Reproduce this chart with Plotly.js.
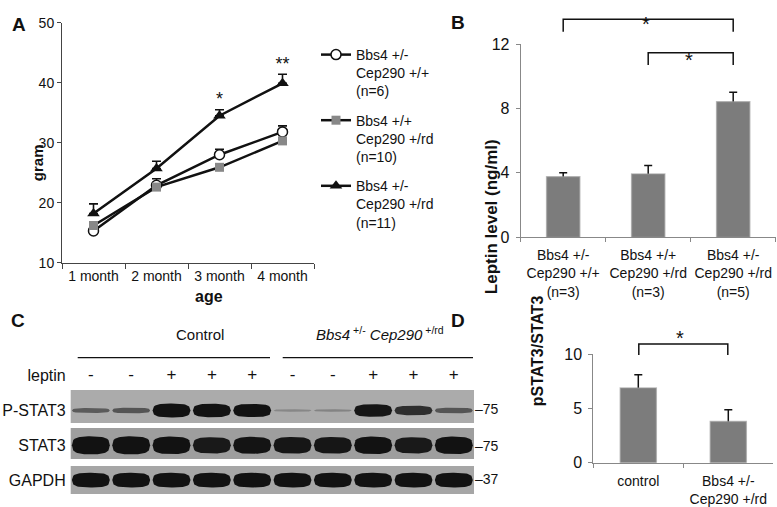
<!DOCTYPE html>
<html><head><meta charset="utf-8">
<script src="https://cdn.plot.ly/plotly-3.0.1.min.js"></script>
<style>body{margin:0;background:#fff}#chart{width:777px;height:507px}</style>
</head><body><div id="chart"></div>
<script>
// ---------- Panel A: body weight ----------
const ageMonths = ['1 month', '2 month', '3 month', '4 month'];
const seriesNames = ['Bbs4 +/-<br>Cep290 +/+<br>(n=6)', 'Bbs4 +/+<br>Cep290 +/rd<br>(n=10)', 'Bbs4 +/-<br>Cep290 +/rd<br>(n=11)'];
const weightBbs4Het = [15.3, 22.9, 28.0, 31.8];
const errBbs4Het = [0.4, 1.1, 0.9, 1.0];
const weightCep290Rd = [16.2, 22.6, 25.9, 30.3];
const errCep290Rd = [0.6, 0.5, 0.4, 0.5];
const weightDouble = [18.2, 25.7, 34.5, 39.9];
const errDouble = [1.6, 1.2, 1.0, 1.5];
const weightStars = ['', '', '*', '**'];

// ---------- Panel B: leptin ----------
const leptinGroups = ['Bbs4 +/-<br>Cep290 +/+<br>(n=3)', 'Bbs4 +/+<br>Cep290 +/rd<br>(n=3)', 'Bbs4 +/-<br>Cep290 +/rd<br>(n=5)'];
const leptinLevel = [3.76, 3.93, 8.42];
const leptinErr = [0.24, 0.52, 0.58];

// ---------- Panel C: western blot ----------
const lanes = [1, 2, 3, 4, 5, 6, 7, 8, 9, 10];
const laneLeptin = ['-', '-', '+', '+', '+', '-', '-', '+', '+', '+'];
const blotRows = ['leptin', 'P-STAT3', 'STAT3', 'GAPDH'];
const pstat3Band = [0.25, 0.3, 1.0, 0.95, 0.93, 0.04, 0.05, 0.88, 0.62, 0.3];
const stat3Band = [1.0, 1.0, 0.95, 0.85, 0.9, 0.88, 0.88, 0.95, 0.85, 0.95];
const gapdhBand = [0.95, 0.95, 0.95, 0.95, 0.95, 0.95, 0.95, 0.95, 0.95, 0.95];
const markerKDa = ['75', '75', '37'];
const groupHeaders = ['Control', '<i>Bbs4</i><sup> +/-</sup> <i>Cep290</i><sup> +/rd</sup>'];

// ---------- Panel D: pSTAT3/STAT3 ----------
const pstatGroups = ['control', 'Bbs4 +/-<br>Cep290 +/rd'];
const pstatRatio = [6.89, 3.80];
const pstatErr = [1.23, 1.08];

const W = 777, H = 507;
const X = p => p / W;
const Y = p => 1 - p / H;
const FONT = 'Liberation Sans, Arial, Helvetica, sans-serif';
const INK = '#111';
const BAR = '#7c7c7c';

// pixel boxes of the panels
const boxA = {x: [62, 314], y: [22.7, 262.7]};
const boxB = {x: [520.7, 775.7], y: [44, 237.3]};
const boxC = {x: [70.7, 474], y: [358.3, 497.5]};
const boxD = {x: [593.3, 773.3], y: [354.3, 462.7]};
const rowPx = (boxC.y[1] - boxC.y[0]) / blotRows.length;

function xDom(b) { return [X(b.x[0]), X(b.x[1])]; }
function yDom(b) { return [Y(b.y[1]), Y(b.y[0])]; }

const zeros = a => a.map(() => 0);
const traces = [];

// Panel A
const aSeries = [
  {y: weightBbs4Het, e: errBbs4Het, marker: {symbol: 'circle', size: 10, color: '#fff', line: {color: INK, width: 1.5}}},
  {y: weightCep290Rd, e: errCep290Rd, marker: {symbol: 'square', size: 9, color: '#888', line: {width: 0}}},
  {y: weightDouble, e: errDouble, marker: {symbol: 'triangle-up', size: 11, color: INK, line: {width: 0}}}
];
aSeries.forEach((s, i) => {
  traces.push({
    type: 'scatter', mode: 'lines+markers', name: seriesNames[i], legendgroup: 'g' + i,
    x: ageMonths, y: s.y, xaxis: 'x', yaxis: 'y',
    line: {color: INK, width: 2.5}, marker: s.marker,
    error_y: {type: 'data', symmetric: false, array: s.e, arrayminus: zeros(s.e), color: INK, thickness: 1.6, width: 4.5},
    cliponaxis: false
  });
});
traces.push({
  type: 'scatter', mode: 'text', x: ageMonths, y: weightDouble.map((v, i) => v + errDouble[i]),
  text: weightStars, textposition: 'top center', textfont: {size: 18, color: INK, family: FONT},
  xaxis: 'x', yaxis: 'y', showlegend: false, cliponaxis: false
});

// Panel B (first trace carries the error bars beneath the visible bars)
traces.push({type: 'bar', x: leptinGroups, y: leptinLevel, xaxis: 'x2', yaxis: 'y2', width: 0.39,
  marker: {color: 'rgba(0,0,0,0)'}, showlegend: false,
  error_y: {type: 'data', array: leptinErr, symmetric: true, color: INK, thickness: 1.5, width: 4}});
traces.push({type: 'bar', x: leptinGroups, y: leptinLevel, xaxis: 'x2', yaxis: 'y2', width: 0.39,
  marker: {color: BAR, line: {color: 'rgba(150,150,150,0.6)', width: 1.5}}, showlegend: false});

// Panel D
traces.push({type: 'bar', x: pstatGroups, y: pstatRatio, xaxis: 'x3', yaxis: 'y3', width: 0.40,
  marker: {color: 'rgba(0,0,0,0)'}, showlegend: false,
  error_y: {type: 'data', array: pstatErr, symmetric: true, color: INK, thickness: 1.5, width: 4}});
traces.push({type: 'bar', x: pstatGroups, y: pstatRatio, xaxis: 'x3', yaxis: 'y3', width: 0.40,
  marker: {color: BAR, line: {color: 'rgba(150,150,150,0.6)', width: 1.5}}, showlegend: false});

// Panel C: leptin treatment signs
traces.push({type: 'scatter', mode: 'text', x: lanes, y: lanes.map(() => 0), text: laneLeptin,
  textfont: {size: 17, color: INK, family: FONT}, xaxis: 'x4', yaxis: 'y4', showlegend: false, cliponaxis: false});

// Panel C: bands as rounded blobs
const bandSets = [
  {row: 1, v: pstat3Band, base: 1.0, amp: 6.0},
  {row: 2, v: stat3Band, base: 3.5, amp: 5.5},
  {row: 3, v: gapdhBand, base: 3.0, amp: 4.6}
];
function shade(v) {
  const g = Math.round(160 - 142 * Math.pow(Math.min(1, v * 1.08), 0.55));
  return 'rgb(' + g + ',' + g + ',' + g + ')';
}
function blob(cx, cy, halfW, halfHpx) {
  const N = 28, p = 3, xs = [], ys = [];
  const hh = halfHpx / rowPx;
  for (let k = 0; k <= N; k++) {
    const t = -1 + 2 * k / N;
    xs.push(cx + t * halfW);
    ys.push(cy - hh * Math.pow(1 - Math.pow(Math.abs(t), p), 1 / p));
  }
  for (let k = N; k >= 0; k--) {
    const t = -1 + 2 * k / N;
    xs.push(cx + t * halfW);
    ys.push(cy + hh * Math.pow(1 - Math.pow(Math.abs(t), p), 1 / p));
  }
  return {xs, ys};
}
bandSets.forEach(set => {
  set.v.forEach((v, i) => {
    const b = blob(lanes[i], set.row, 0.47, set.base + set.amp * v);
    traces.push({type: 'scatter', mode: 'lines', x: b.xs, y: b.ys, fill: 'toself',
      fillcolor: shade(v), line: {width: 0, color: shade(v)},
      xaxis: 'x4', yaxis: 'y4', showlegend: false});
  });
});

function axStyle(extra) {
  return Object.assign({
    showline: true, linecolor: '#666', linewidth: 1, ticks: 'outside', ticklen: 4, tickcolor: '#666',
    showgrid: false, zeroline: false, fixedrange: true, tickangle: 0,
    tickfont: {family: FONT, size: 14, color: INK}
  }, extra);
}

const annotations = [];
function ann(text, x, y, opts) {
  annotations.push(Object.assign({text: text, x: X(x), y: Y(y), xref: 'paper', yref: 'paper', showarrow: false,
    font: {family: FONT, size: 14, color: INK}}, opts || {}));
}
// panel letters
ann('<b>A</b>', 9.5, 12, {font: {family: FONT, size: 19, color: INK}});
ann('<b>B</b>', 457.5, 10.5, {font: {family: FONT, size: 19, color: INK}});
ann('<b>C</b>', 9, 320, {font: {family: FONT, size: 19, color: INK}});
ann('<b>D</b>', 458, 320, {font: {family: FONT, size: 19, color: INK}});
// axis titles
ann('<b>gram</b>', 26.5, 142.7, {textangle: -90, font: {family: FONT, size: 15, color: INK}});
ann('<b>age</b>', 192.7, 296.5, {font: {family: FONT, size: 16, color: INK}});
ann('<b>Leptin level (ng/ml)</b>', 491.7, 137, {textangle: -90, font: {family: FONT, size: 17, color: INK}});
ann('<b>pSTAT3/STAT3</b>', 548.3, 408, {textangle: -90, font: {family: FONT, size: 16, color: INK}});
// blot headers
ann(groupHeaders[0], 174, 345, {font: {family: FONT, size: 15, color: INK}});
ann(groupHeaders[1], 380, 345, {font: {family: FONT, size: 15, color: INK}});
// molecular weight markers
const mwY = [419, 456, 489];
markerKDa.forEach((m, i) => ann('\u2013' + m, 473, mwY[i], {xanchor: 'left', font: {family: FONT, size: 14, color: INK}}));
// significance stars for B and D
ann('*', 651.7, 11, {font: {family: FONT, size: 20, color: INK}});
ann('*', 695, 47, {font: {family: FONT, size: 20, color: INK}});
ann('*', 686, 337.5, {font: {family: FONT, size: 20, color: INK}});

function catPx(box, n, i) { return box.x[0] + (box.x[1] - box.x[0]) * (i + 0.5) / n; }
function bracket(x0, x1, yTop, yEnd) {
  return {type: 'path', xref: 'paper', yref: 'paper',
    path: 'M' + X(x0) + ',' + Y(yEnd) + ' L' + X(x0) + ',' + Y(yTop) + ' L' + X(x1) + ',' + Y(yTop) + ' L' + X(x1) + ',' + Y(yEnd),
    line: {color: INK, width: 1.5}};
}
const shapes = [
  bracket(catPx(boxB, 3, 0), catPx(boxB, 3, 2), 19.3, 31.7),
  bracket(catPx(boxB, 3, 1), catPx(boxB, 3, 2), 52.7, 65),
  bracket(catPx(boxD, 2, 0) + 0.5, catPx(boxD, 2, 1) - 0.5, 344, 355),
  // blot header underlines
  {type: 'line', xref: 'paper', yref: 'paper', x0: X(77.7), x1: X(270), y0: Y(357.7), y1: Y(357.7), line: {color: INK, width: 1.2}},
  {type: 'line', xref: 'paper', yref: 'paper', x0: X(282.7), x1: X(473), y0: Y(357.7), y1: Y(357.7), line: {color: INK, width: 1.2}},
  // blot membranes
  {type: 'rect', xref: 'paper', yref: 'paper', layer: 'below', x0: X(70.7), x1: X(474), y0: Y(423), y1: Y(390), fillcolor: '#ababab', line: {width: 0}},
  {type: 'rect', xref: 'paper', yref: 'paper', layer: 'below', x0: X(70.7), x1: X(474), y0: Y(459), y1: Y(428), fillcolor: '#9e9e9e', line: {width: 0}},
  {type: 'rect', xref: 'paper', yref: 'paper', layer: 'below', x0: X(70.7), x1: X(474), y0: Y(494), y1: Y(466), fillcolor: '#a6a6a6', line: {width: 0}}
];

const layout = {
  width: W, height: H, margin: {l: 0, r: 0, t: 0, b: 0, pad: 0},
  paper_bgcolor: '#fff', plot_bgcolor: 'rgba(0,0,0,0)',
  font: {family: FONT, size: 14, color: INK},
  showlegend: true, hovermode: false, barmode: 'overlay',
  legend: {x: X(316), y: Y(39), xanchor: 'left', yanchor: 'top', valign: 'top', tracegroupgap: 8,
    bgcolor: 'rgba(0,0,0,0)', font: {family: FONT, size: 14, color: INK}, itemwidth: 30},
  xaxis: axStyle({domain: xDom(boxA), anchor: 'y', type: 'category', range: [-0.5, 3.5], tickson: 'boundaries', ticklen: 5, linecolor: '#444', tickcolor: '#444'}),
  yaxis: axStyle({domain: yDom(boxA), anchor: 'x', range: [10, 50], dtick: 10, linecolor: '#444', tickcolor: '#444'}),
  xaxis2: axStyle({domain: xDom(boxB), anchor: 'y2', type: 'category', range: [-0.5, 2.5], tickson: 'boundaries', linecolor: '#888', tickcolor: '#888', ticklabelstandoff: 5}),
  yaxis2: axStyle({domain: yDom(boxB), anchor: 'x2', range: [0, 12], dtick: 4, linecolor: '#888', tickcolor: '#888', ticklabelstandoff: 3, tickfont: {family: FONT, size: 16, color: INK}}),
  xaxis3: axStyle({domain: xDom(boxD), anchor: 'y3', type: 'category', range: [-0.5, 1.5], tickson: 'boundaries', linecolor: '#888', tickcolor: '#888', ticklabelstandoff: 5}),
  yaxis3: axStyle({domain: yDom(boxD), anchor: 'x3', range: [0, 10], dtick: 5, linecolor: '#888', tickcolor: '#888', ticklabelstandoff: 3, tickfont: {family: FONT, size: 16, color: INK}}),
  xaxis4: {domain: xDom(boxC), anchor: 'y4', range: [0.5, 10.5], visible: false, fixedrange: true},
  yaxis4: {domain: yDom(boxC), anchor: 'x4', range: [3.5, -0.5], tickmode: 'array', tickvals: [0, 1, 2, 3], ticktext: blotRows,
    showline: false, ticks: '', showgrid: false, zeroline: false, fixedrange: true,
    ticklabelstandoff: 4, tickfont: {family: FONT, size: 16, color: INK}},
  annotations: annotations, shapes: shapes
};

Plotly.newPlot('chart', traces, layout, {staticPlot: true, displayModeBar: false});
</script>
</body></html>
